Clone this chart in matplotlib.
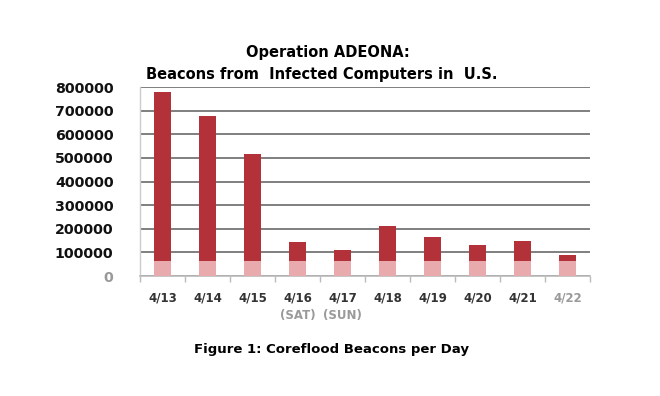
import numpy as np
import matplotlib
matplotlib.use("Agg")
import matplotlib.pyplot as plt
from matplotlib.transforms import blended_transform_factory

days = ["4/13", "4/14", "4/15", "4/16", "4/17", "4/18", "4/19", "4/20", "4/21", "4/22"]
beacons = [780000, 677000, 515000, 145000, 109000, 212000, 165000, 133000, 148000, 90000]
weekday_notes = {"4/16": "(SAT)", "4/17": "(SUN)"}
yticks = [0, 100000, 200000, 300000, 400000, 500000, 600000, 700000, 800000]
# the light lower band seen on every bar
band_top = 63000

plt.rcParams['font.family'] = ['DejaVu Sans']

fig = plt.figure(figsize=(6.6, 3.96), dpi=100)
ax = fig.add_axes([0.212, 0.303, 0.682, 0.477])

x = np.arange(len(days))
vals = np.array(beacons)
low = np.minimum(vals, band_top)
ax.bar(x, low, width=0.39, color='#e8aaad', zorder=3)
ax.bar(x, vals - low, bottom=low, width=0.39, color='#b3323a', zorder=3)

ax.set_xlim(-0.5, len(days) - 0.5)
ax.set_ylim(0, 800000)
ax.set_yticks(yticks)
ax.set_yticklabels([str(v) for v in yticks], fontsize=10.2, fontweight='bold')
for lab, v in zip(ax.get_yticklabels(), yticks):
    lab.set_color('#999999' if v == 0 else '#111111')
ax.yaxis.grid(True, color='#7f7f7f', lw=1.4, zorder=1)
ax.tick_params(axis='y', length=0, pad=19)

ax.set_xticks(x)
ax.set_xticklabels(days, fontsize=8.5, fontweight='bold', color='#333333')
ax.get_xticklabels()[-1].set_color('#9a9a9a')
ax.set_xticks(np.arange(-0.5, len(days)), minor=True)
ax.tick_params(axis='x', which='major', length=0, pad=11)
ax.tick_params(axis='x', which='minor', length=4, color='#bbbbbb', width=1)

for s in ['top', 'right']:
    ax.spines[s].set_visible(False)
ax.spines['left'].set_color('#cccccc')
ax.spines['bottom'].set_color('#bbbbbb')
ax.spines['left'].set_linewidth(1)
ax.spines['bottom'].set_linewidth(1.2)

trans = blended_transform_factory(ax.transData, fig.transFigure)
for i, d in enumerate(days):
    if d in weekday_notes:
        ax.text(i, 1 - 315 / 396, weekday_notes[d], transform=trans, ha='center', va='center',
                fontsize=8.5, fontweight='bold', color='#9a9a9a')

fig.text(0.497, 1 - 53 / 396, "Operation ADEONA:", ha='center', va='center',
         fontsize=10.5, fontweight='bold')
fig.text(0.488, 1 - 74 / 396, "Beacons from  Infected Computers in  U.S.", ha='center', va='center',
         fontsize=10.5, fontweight='bold')
fig.text(0.502, 1 - 350 / 396, "Figure 1: Coreflood Beacons per Day", ha='center', va='center',
         fontsize=9.5, fontweight='bold')

fig.savefig("out.png", dpi=100)
